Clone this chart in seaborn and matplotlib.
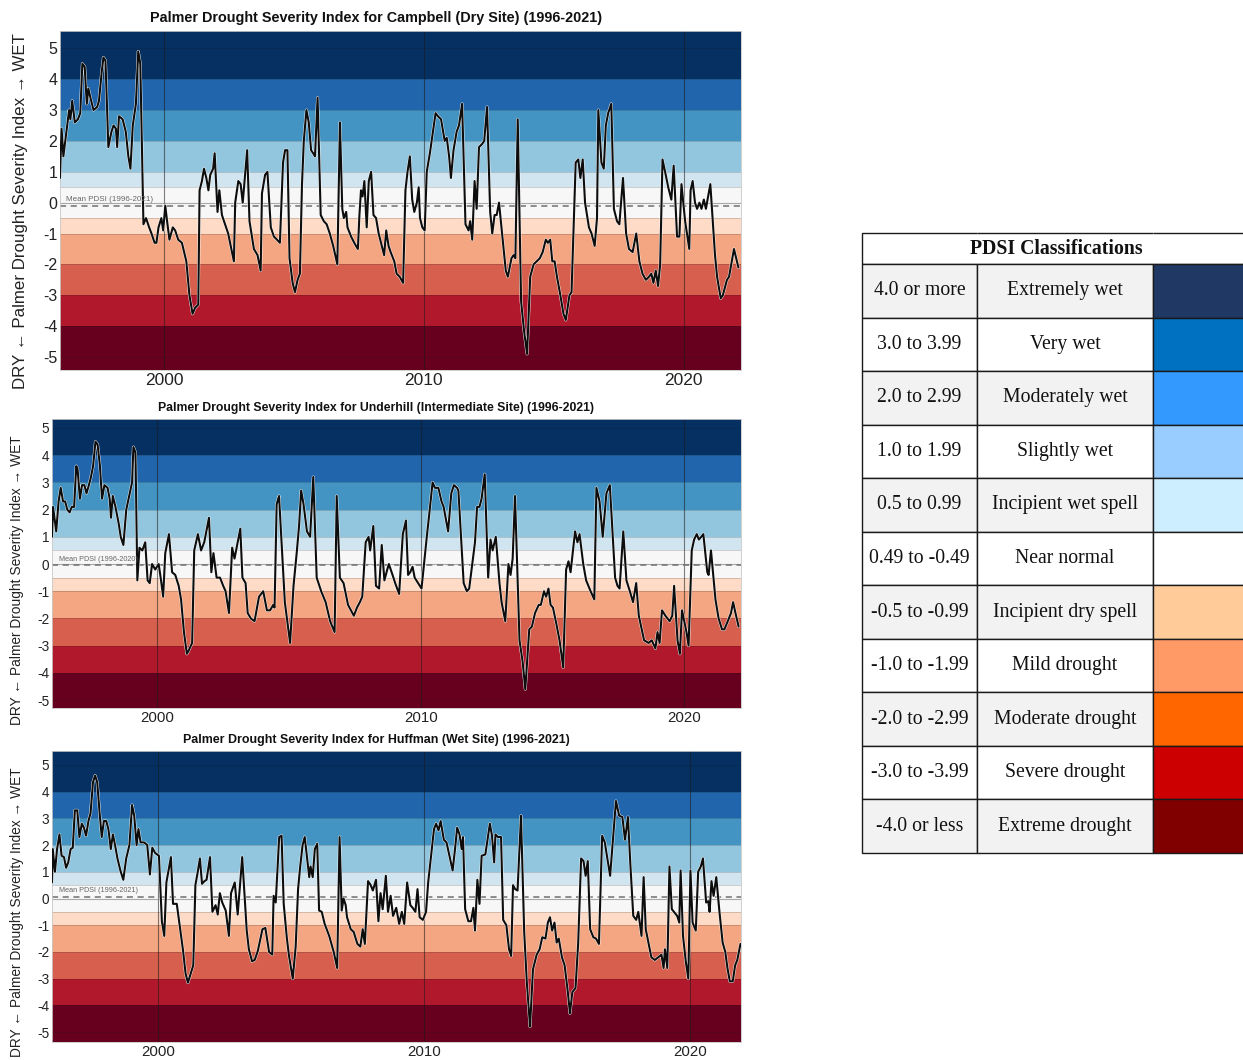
import numpy as np
import pandas as pd
import seaborn as sns
import matplotlib.pyplot as plt

sns.set_theme(style="white")
plt.rcParams['font.family'] = ['Liberation Sans', 'DejaVu Sans']
plt.rcParams['axes.unicode_minus'] = False

# (decimal year, PDSI)
campbell = [
    (1996.00, 0.8), (1996.06, 2.4), (1996.13, 1.5), (1996.35, 3.0), (1996.40, 2.7), (1996.47, 3.3),
    (1996.57, 2.6), (1996.69, 2.7), (1996.78, 2.9), (1996.86, 4.5), (1996.95, 4.4), (1997.03, 3.2),
    (1997.09, 3.7), (1997.17, 3.4), (1997.29, 3.0), (1997.43, 3.1), (1997.50, 3.3), (1997.60, 4.2),
    (1997.67, 4.7), (1997.75, 4.6), (1997.86, 1.8), (1997.98, 2.3), (1998.06, 2.5), (1998.15, 2.4),
    (1998.20, 1.8), (1998.27, 2.8), (1998.41, 2.7), (1998.53, 2.3), (1998.63, 1.5), (1998.71, 1.1),
    (1998.80, 2.5), (1998.92, 3.2), (1999.01, 4.9), (1999.09, 4.5), (1999.21, -0.7), (1999.31, -0.5),
    (1999.43, -0.8), (1999.52, -1.0), (1999.64, -1.3), (1999.71, -1.3), (1999.79, -0.8), (1999.90, -0.5),
    (1999.97, -0.9), (2000.05, -0.1), (2000.12, -0.6), (2000.21, -1.2), (2000.34, -0.8), (2000.43, -0.9),
    (2000.55, -1.2), (2000.69, -1.3), (2000.86, -1.9), (2000.98, -3.0), (2001.10, -3.6), (2001.20, -3.4),
    (2001.32, -3.3), (2001.37, 0.4), (2001.46, 0.7), (2001.54, 1.1), (2001.63, 0.8), (2001.71, 0.4),
    (2001.78, 0.9), (2001.89, 1.1), (2001.95, 1.6), (2002.06, -0.3), (2002.13, 0.4), (2002.23, -0.4),
    (2002.35, -0.7), (2002.47, -1.0), (2002.69, -1.9), (2002.74, 0.0), (2002.86, 0.7), (2002.95, 0.6),
    (2003.03, 0.0), (2003.20, 1.7), (2003.29, -0.6), (2003.46, -1.5), (2003.60, -1.7), (2003.72, -2.2),
    (2003.77, 0.3), (2003.89, 0.9), (2003.98, 1.0), (2004.11, -0.8), (2004.23, -1.1), (2004.35, -1.2),
    (2004.46, -1.3), (2004.58, 1.3), (2004.66, 1.7), (2004.75, 1.7), (2004.83, -1.8), (2004.95, -2.6),
    (2005.04, -2.9), (2005.14, -2.5), (2005.23, -2.3), (2005.31, 0.6), (2005.38, 2.0), (2005.48, 3.0),
    (2005.57, 2.6), (2005.66, 1.7), (2005.74, 1.6), (2005.81, 1.5), (2005.91, 3.4), (2006.03, -0.4),
    (2006.15, -0.6), (2006.26, -0.7), (2006.38, -1.0), (2006.51, -1.4), (2006.67, -2.0), (2006.77, 2.6),
    (2006.86, -0.2), (2006.92, -0.5), (2007.01, -0.3), (2007.06, -0.8), (2007.20, -1.1), (2007.32, -1.3),
    (2007.46, -1.5), (2007.52, -0.4), (2007.58, 0.4), (2007.64, 0.2), (2007.71, 0.7), (2007.80, -0.8),
    (2007.88, 0.7), (2007.97, 1.0), (2008.06, -0.4), (2008.16, -0.5), (2008.26, -1.0), (2008.38, -1.4),
    (2008.47, -1.7), (2008.55, -0.9), (2008.64, -1.4), (2008.72, -1.6), (2008.86, -1.9), (2008.95, -2.3),
    (2009.07, -2.4), (2009.20, -2.6), (2009.29, 0.4), (2009.37, 1.0), (2009.46, 1.5), (2009.55, 0.1),
    (2009.63, -0.3), (2009.73, 0.0), (2009.80, 0.5), (2009.85, -0.5), (2009.94, -0.8), (2010.03, -0.9),
    (2010.11, 1.0), (2010.23, 1.6), (2010.45, 2.9), (2010.54, 2.8), (2010.66, 2.7), (2010.80, 2.0),
    (2010.88, 2.1), (2010.97, 1.5), (2011.04, 0.8), (2011.14, 1.7), (2011.26, 2.3), (2011.35, 2.5),
    (2011.47, 3.2), (2011.60, -0.7), (2011.72, -0.9), (2011.78, -0.6), (2011.86, -1.2), (2011.95, 0.7),
    (2012.03, -0.2), (2012.12, 1.8), (2012.24, 1.9), (2012.32, 2.0), (2012.43, 3.1), (2012.55, -0.3),
    (2012.63, -1.0), (2012.72, -0.4), (2012.80, -0.4), (2012.89, 0.0), (2013.01, -1.0), (2013.15, -2.2),
    (2013.23, -2.4), (2013.37, -1.8), (2013.45, -1.7), (2013.52, -1.8), (2013.61, 2.7), (2013.74, -3.2),
    (2013.86, -4.2), (2013.97, -4.9), (2014.09, -2.4), (2014.22, -2.0), (2014.34, -1.9), (2014.46, -1.8),
    (2014.57, -1.6), (2014.69, -1.2), (2014.77, -1.3), (2014.86, -1.2), (2014.94, -1.9), (2015.03, -1.9),
    (2015.12, -2.4), (2015.25, -3.0), (2015.37, -3.6), (2015.46, -3.8), (2015.60, -3.0), (2015.68, -2.9),
    (2015.84, 1.3), (2015.94, 1.4), (2016.02, 0.8), (2016.11, 1.4), (2016.20, 0.0), (2016.35, -0.8),
    (2016.45, -1.0), (2016.57, -1.4), (2016.66, -0.5), (2016.71, 3.0), (2016.83, 1.3), (2016.92, 1.1),
    (2017.00, 2.5), (2017.09, 2.9), (2017.21, 3.2), (2017.31, -0.2), (2017.43, -0.6), (2017.52, -0.7),
    (2017.66, 0.8), (2017.78, -1.0), (2017.89, -1.5), (2018.03, -1.6), (2018.17, -1.0), (2018.29, -1.9),
    (2018.41, -2.3), (2018.54, -2.5), (2018.66, -2.4), (2018.75, -2.3), (2018.83, -2.6), (2018.92, -2.2),
    (2019.01, -2.7), (2019.09, -2.0), (2019.18, 1.4), (2019.28, 1.0), (2019.40, 0.5), (2019.52, 0.1),
    (2019.61, 1.2), (2019.74, -1.1), (2019.83, -1.1), (2019.91, 0.6), (2020.05, -0.6), (2020.21, -1.5),
    (2020.26, 0.4), (2020.34, 0.7), (2020.43, 0.0), (2020.51, -0.2), (2020.60, 0.0), (2020.68, -0.2),
    (2020.77, 0.1), (2020.85, -0.2), (2021.02, 0.6), (2021.20, -1.7), (2021.28, -2.4), (2021.42, -3.1),
    (2021.50, -3.0), (2021.66, -2.5), (2021.74, -2.4), (2021.93, -1.5), (2022.10, -2.1),
]

underhill = [
    (1996.00, 1.0), (1996.04, 2.1), (1996.16, 1.2), (1996.25, 2.3), (1996.33, 2.8), (1996.42, 2.3),
    (1996.50, 2.3), (1996.58, 2.0), (1996.67, 1.9), (1996.75, 2.1), (1996.84, 2.1), (1996.92, 3.6),
    (1996.97, 3.5), (1997.06, 2.4), (1997.14, 2.9), (1997.23, 2.9), (1997.31, 2.6), (1997.40, 2.9),
    (1997.48, 3.2), (1997.56, 3.6), (1997.65, 4.5), (1997.73, 4.4), (1997.82, 3.6), (1997.90, 2.4),
    (1997.99, 2.9), (1998.11, 2.8), (1998.19, 2.4), (1998.24, 1.7), (1998.31, 2.5), (1998.41, 2.1),
    (1998.53, 1.5), (1998.61, 1.0), (1998.71, 0.7), (1998.82, 2.0), (1998.95, 2.6), (1999.04, 3.0),
    (1999.09, 4.3), (1999.17, 4.1), (1999.24, -0.6), (1999.32, 0.6), (1999.43, 0.5), (1999.54, 0.8),
    (1999.63, -0.6), (1999.71, -0.7), (1999.80, 0.0), (1999.92, -0.2), (2000.05, 0.0), (2000.14, -0.6),
    (2000.22, -1.2), (2000.30, 0.4), (2000.44, 1.1), (2000.56, -0.3), (2000.68, -0.4), (2000.81, -0.8),
    (2000.90, -1.3), (2001.01, -2.5), (2001.12, -3.3), (2001.18, -3.2), (2001.32, -2.9), (2001.40, 0.5),
    (2001.54, 1.1), (2001.66, 0.5), (2001.78, 0.8), (2001.96, 1.7), (2002.05, -0.3), (2002.13, 0.4),
    (2002.25, -0.5), (2002.38, -0.5), (2002.50, -0.8), (2002.59, -1.0), (2002.72, -1.8), (2002.84, 0.6),
    (2002.93, 0.2), (2003.15, 1.3), (2003.23, -0.5), (2003.35, -0.7), (2003.43, -1.8), (2003.55, -2.0),
    (2003.69, -2.1), (2003.86, -1.2), (2004.02, -1.0), (2004.16, -1.7), (2004.28, -1.7), (2004.40, -1.5),
    (2004.45, -1.6), (2004.53, 2.2), (2004.62, 2.5), (2004.84, -1.4), (2005.04, -2.9), (2005.17, -0.8),
    (2005.29, 0.4), (2005.38, 1.4), (2005.46, 2.7), (2005.55, 2.2), (2005.68, 1.2), (2005.80, 1.0),
    (2005.92, 3.2), (2006.05, -0.5), (2006.22, -1.0), (2006.39, -1.4), (2006.56, -2.1), (2006.73, -2.5),
    (2006.81, 2.5), (2006.93, -0.5), (2007.07, -0.7), (2007.24, -1.5), (2007.46, -1.9), (2007.58, -1.6),
    (2007.69, -1.4), (2007.78, -1.2), (2007.91, 0.8), (2008.02, 1.0), (2008.08, 0.5), (2008.20, 1.4),
    (2008.30, -0.8), (2008.42, -0.9), (2008.52, 0.7), (2008.62, -0.6), (2008.73, -0.2), (2008.79, 0.0),
    (2008.93, -0.4), (2009.03, -0.7), (2009.18, -1.1), (2009.32, 1.1), (2009.44, 1.6), (2009.52, -0.4),
    (2009.60, -0.3), (2009.69, -0.1), (2009.77, -0.5), (2010.03, -0.9), (2010.23, 1.0), (2010.32, 1.8),
    (2010.45, 3.0), (2010.54, 2.8), (2010.67, 2.8), (2010.79, 2.3), (2010.87, 2.1), (2011.04, 1.2),
    (2011.16, 2.6), (2011.26, 2.9), (2011.38, 2.8), (2011.43, 2.7), (2011.63, -0.7), (2011.75, -1.0),
    (2011.84, -0.9), (2012.06, 0.8), (2012.14, 2.1), (2012.23, 2.1), (2012.31, 2.4), (2012.43, 3.3),
    (2012.56, -0.5), (2012.65, 0.9), (2012.73, 0.5), (2012.85, 1.0), (2012.99, -0.7), (2013.07, -1.4),
    (2013.21, -2.1), (2013.33, 0.0), (2013.41, -0.4), (2013.49, 0.2), (2013.58, 2.5), (2013.75, -2.8),
    (2013.87, -3.6), (2013.97, -4.6), (2014.12, -2.4), (2014.22, -2.3), (2014.34, -1.8), (2014.48, -1.5),
    (2014.56, -1.5), (2014.68, -1.0), (2014.76, -1.2), (2014.85, -0.9), (2014.93, -1.5), (2015.02, -1.6),
    (2015.15, -2.2), (2015.27, -2.8), (2015.41, -3.8), (2015.52, -0.2), (2015.61, 0.1), (2015.69, -0.3),
    (2015.86, 1.2), (2015.95, 0.8), (2016.03, 1.1), (2016.17, 0.0), (2016.28, -0.6), (2016.45, -1.0),
    (2016.59, -1.3), (2016.67, 2.8), (2016.79, 2.3), (2016.91, 1.0), (2017.05, 2.6), (2017.18, 2.9),
    (2017.38, -0.5), (2017.47, -0.8), (2017.55, -0.9), (2017.69, 1.2), (2017.81, -0.6), (2017.94, -1.0),
    (2018.06, -1.4), (2018.18, -0.7), (2018.28, -1.9), (2018.48, -2.8), (2018.65, -2.9), (2018.77, -2.8),
    (2018.91, -3.1), (2018.99, -2.5), (2019.07, -2.9), (2019.16, -1.7), (2019.29, -1.9), (2019.45, -2.1),
    (2019.55, -1.9), (2019.62, -0.8), (2019.75, -2.8), (2019.84, -3.3), (2019.92, -1.7), (2020.09, -2.5),
    (2020.17, -3.0), (2020.29, 0.5), (2020.38, 0.9), (2020.48, 1.1), (2020.56, 0.9), (2020.65, 1.0),
    (2020.73, 1.1), (2020.88, -0.3), (2020.93, -0.4), (2021.02, 0.5), (2021.19, -1.3), (2021.31, -2.0),
    (2021.44, -2.4), (2021.53, -2.4), (2021.70, -2.0), (2021.78, -1.8), (2021.86, -1.4), (2021.95, -1.8),
    (2022.07, -2.3),
]

huffman = [
    (1996.00, 0.6), (1996.03, 1.85), (1996.11, 1.0), (1996.19, 1.85), (1996.28, 2.4), (1996.36, 1.6),
    (1996.45, 1.55), (1996.53, 1.15), (1996.61, 1.35), (1996.70, 1.85), (1996.78, 1.9), (1996.86, 3.3),
    (1996.95, 3.3), (1997.03, 2.3), (1997.12, 2.8), (1997.20, 2.65), (1997.28, 2.35), (1997.37, 2.9),
    (1997.45, 3.2), (1997.54, 4.35), (1997.62, 4.6), (1997.70, 4.35), (1997.79, 3.2), (1997.87, 2.3),
    (1997.95, 2.9), (1998.04, 2.9), (1998.12, 2.6), (1998.21, 1.85), (1998.29, 2.4), (1998.37, 2.0),
    (1998.46, 1.5), (1998.57, 1.05), (1998.68, 0.7), (1998.79, 1.5), (1998.91, 2.0), (1999.01, 3.5),
    (1999.09, 3.1), (1999.18, 2.0), (1999.25, 2.6), (1999.33, 2.1), (1999.46, 2.1), (1999.58, 2.0),
    (1999.68, 0.9), (1999.77, 1.9), (1999.88, 1.7), (2000.02, 1.6), (2000.13, -0.85), (2000.22, -1.4),
    (2000.30, 0.6), (2000.47, 1.55), (2000.55, -0.2), (2000.69, -0.2), (2000.80, -1.0), (2000.92, -1.9),
    (2001.02, -2.8), (2001.11, -3.15), (2001.22, -2.8), (2001.31, -2.5), (2001.39, 0.5), (2001.48, 1.0),
    (2001.56, 1.5), (2001.64, 0.55), (2001.73, 0.65), (2001.81, 0.7), (2001.94, 1.55), (2002.03, -0.5),
    (2002.15, -0.25), (2002.23, -0.6), (2002.31, 0.2), (2002.40, -0.15), (2002.53, -0.45), (2002.65, -1.4),
    (2002.73, 0.2), (2002.87, 0.6), (2002.98, -0.6), (2003.15, 1.55), (2003.32, -1.2), (2003.40, -1.9),
    (2003.52, -2.35), (2003.62, -2.3), (2003.74, -1.95), (2003.91, -1.15), (2004.02, -1.1), (2004.16, -2.0),
    (2004.28, -2.1), (2004.33, 0.1), (2004.41, -0.15), (2004.54, 2.3), (2004.63, 2.35), (2004.71, -0.2),
    (2004.83, -1.5), (2004.91, -2.15), (2005.05, -3.0), (2005.16, -1.8), (2005.25, 0.35), (2005.33, 1.2),
    (2005.42, 2.0), (2005.50, 2.3), (2005.58, 1.6), (2005.67, 0.8), (2005.72, 1.2), (2005.80, 0.8),
    (2005.88, 1.85), (2005.97, 2.05), (2006.04, -0.45), (2006.14, -0.5), (2006.25, -0.95), (2006.42, -1.4),
    (2006.59, -2.0), (2006.72, -2.6), (2006.81, 2.3), (2006.89, -0.45), (2006.96, 0.0), (2007.04, -0.25),
    (2007.09, -0.7), (2007.23, -1.15), (2007.34, -1.25), (2007.48, -1.7), (2007.59, -1.8), (2007.68, -1.15),
    (2007.76, -1.7), (2007.88, 0.65), (2007.98, 0.5), (2008.06, 0.3), (2008.18, 0.7), (2008.27, -0.85),
    (2008.35, 0.2), (2008.43, -0.4), (2008.55, 0.85), (2008.63, -0.5), (2008.73, 0.1), (2008.82, -0.65),
    (2008.94, -0.35), (2009.05, -0.95), (2009.15, -0.5), (2009.24, -0.95), (2009.35, 0.6), (2009.47, -0.25),
    (2009.56, -0.35), (2009.66, -0.5), (2009.74, 0.35), (2009.82, -0.7), (2009.94, -0.8), (2010.06, -0.5),
    (2010.14, 0.6), (2010.24, 1.5), (2010.36, 2.6), (2010.44, 2.8), (2010.53, 2.55), (2010.61, 2.9),
    (2010.73, 2.2), (2010.83, 2.1), (2010.95, 1.55), (2011.06, 1.05), (2011.15, 1.85), (2011.23, 2.65),
    (2011.32, 2.4), (2011.40, 1.85), (2011.45, 2.3), (2011.53, -0.4), (2011.65, -0.85), (2011.75, -0.85),
    (2011.84, -0.35), (2011.90, -1.2), (2011.99, 0.7), (2012.07, -0.2), (2012.15, 1.6), (2012.29, 1.65),
    (2012.37, 2.2), (2012.46, 2.8), (2012.54, 2.35), (2012.62, 1.35), (2012.67, 2.4), (2012.76, 2.3),
    (2012.88, 2.3), (2012.96, -0.8), (2013.08, -1.0), (2013.18, -1.9), (2013.26, -2.15), (2013.33, 0.5),
    (2013.41, 0.35), (2013.50, 0.3), (2013.63, 3.1), (2013.75, -1.25), (2013.85, -3.15), (2013.97, -4.8),
    (2014.08, -2.65), (2014.22, -2.1), (2014.33, -1.9), (2014.43, -1.45), (2014.55, -1.5), (2014.64, -0.9),
    (2014.72, -0.7), (2014.80, -1.2), (2014.89, -0.9), (2014.97, -1.65), (2015.05, -1.5), (2015.17, -2.2),
    (2015.27, -2.5), (2015.39, -3.5), (2015.47, -4.3), (2015.56, -3.5), (2015.68, -3.35), (2015.78, -1.65),
    (2015.89, 1.5), (2015.98, 1.4), (2016.06, 0.85), (2016.14, 1.4), (2016.23, -1.15), (2016.35, -1.45),
    (2016.45, -1.5), (2016.56, -1.7), (2016.68, 2.35), (2016.78, 2.1), (2016.90, 1.35), (2016.98, 0.85),
    (2017.12, 2.65), (2017.20, 3.65), (2017.32, 3.1), (2017.44, 3.05), (2017.54, 2.2), (2017.65, 3.05),
    (2017.74, 1.3), (2017.85, -0.65), (2017.96, -0.8), (2018.04, -0.5), (2018.16, -1.4), (2018.24, 0.8),
    (2018.32, -1.15), (2018.41, -1.6), (2018.53, -2.2), (2018.66, -2.3), (2018.79, -2.2), (2018.91, -2.1),
    (2018.99, -2.6), (2019.04, -1.9), (2019.13, -2.6), (2019.21, 1.2), (2019.30, -0.4), (2019.38, -0.5),
    (2019.50, -0.65), (2019.58, -0.9), (2019.63, 1.05), (2019.72, -1.4), (2019.83, -2.4), (2019.92, -3.0),
    (2020.00, 1.05), (2020.08, -0.9), (2020.20, -1.2), (2020.29, 1.0), (2020.39, 1.2), (2020.47, 1.5),
    (2020.59, -0.15), (2020.67, -0.1), (2020.72, -0.5), (2020.79, 0.65), (2020.87, 0.1), (2020.97, 0.8),
    (2021.09, -0.5), (2021.21, -1.65), (2021.31, -2.0), (2021.39, -2.6), (2021.48, -3.1), (2021.59, -3.1),
    (2021.68, -2.5), (2021.76, -2.3), (2021.88, -1.7),
]

site_titles = [
    'Palmer Drought Severity Index for Campbell (Dry Site) (1996-2021)',
    'Palmer Drought Severity Index for Underhill (Intermediate Site) (1996-2021)',
    'Palmer Drought Severity Index for Huffman (Wet Site) (1996-2021)',
]
site_means = [-0.12, -0.05, 0.05]
mean_labels = ['Mean PDSI (1996-2021)', 'Mean PDSI (1996-2020)', 'Mean PDSI (1996-2021)']

# classification table
pdsi_ranges = ['4.0 or more', '3.0 to 3.99', '2.0 to 2.99', '1.0 to 1.99', '0.5 to 0.99',
               '0.49 to -0.49', '-0.5 to -0.99', '-1.0 to -1.99', '-2.0 to -2.99',
               '-3.0 to -3.99', '-4.0 or less']
pdsi_classes = ['Extremely wet', 'Very wet', 'Moderately wet', 'Slightly wet', 'Incipient wet spell',
                'Near normal', 'Incipient dry spell', 'Mild drought', 'Moderate drought',
                'Severe drought', 'Extreme drought']
pdsi_swatches = ['#203864', '#0070c0', '#3399ff', '#99ccff', '#cceeff', '#ffffff',
                 '#ffcc99', '#ff9966', '#ff6600', '#cc0000', '#800000']

band_edges = [-4, -3, -2, -1, -0.5, 0.5, 1, 2, 3, 4]
band_colors = ['#67001f', '#b2182b', '#d6604d', '#f4a582', '#fddbc7', '#f7f7f7',
               '#d1e5f0', '#92c5de', '#4393c3', '#2166ac', '#053061']

W, H = 1243, 1060
fig = plt.figure(figsize=(W / 100, H / 100), dpi=100)

# axes boxes in pixels: left, top, right, bottom
boxes = [(60, 31, 741, 370), (52, 419, 741, 708), (52, 751, 741, 1042)]
xlims = [(1996.0, 2022.2), (1996.0, 2022.16), (1996.0, 2021.9)]
ylims = [(-5.42, 5.56), (-5.29, 5.33), (-5.37, 5.52)]
title_y = [18, 408, 740]
title_fs = [10.4, 8.85, 8.9]
ytick_fs = [11.5, 9.8, 9.8]
xtick_fs = [12.5, 10.8, 10.8]
ylab_fs = [12.2, 9.9, 9.9]
mean_fs = [5.8, 5.2, 5.2]
ylab_right = [28, 24, 24]
ylab_center = [211, 580, 912]


def draw_panel(ax, data, mean, mean_label, xlim, ylim, i):
    lows = [ylim[0] - 1] + band_edges
    highs = band_edges + [ylim[1] + 1]
    for lo, hi, c in zip(lows, highs, band_colors):
        ax.axhspan(lo, hi, color=c, lw=0, zorder=0)
    for e in band_edges + [-5, 5]:
        ax.axhline(e, color='#1a1a1a', lw=0.6, alpha=0.22, zorder=1)
    for yr in (2000, 2010, 2020):
        ax.axvline(yr, color='#1a1a1a', lw=0.8, alpha=0.55, zorder=1)
    ax.axhline(0, color='#888888', lw=0.8, alpha=0.7, zorder=1)
    ax.axhline(mean, color='#707070', lw=1.1, ls=(0, (4, 3)), zorder=2)

    df = pd.DataFrame(data, columns=['year', 'pdsi'])
    sns.lineplot(data=df, x='year', y='pdsi', color='white', lw=2.1, ax=ax,
                 estimator=None, sort=False, zorder=3)
    sns.lineplot(data=df, x='year', y='pdsi', color='#0d0d0d', lw=1.5, ax=ax,
                 estimator=None, sort=False, zorder=4)

    ax.text(xlim[0] + 0.25, mean + 0.1, mean_label, fontsize=mean_fs[i], color='#666666',
            ha='left', va='bottom', zorder=5)

    ax.set_xlim(*xlim)
    ax.set_ylim(*ylim)
    ax.set_yticks(range(-5, 6))
    ax.set_xticks([2000, 2010, 2020])
    ax.tick_params(axis='y', length=0, pad=2, labelsize=ytick_fs[i], colors='#222222')
    ax.tick_params(axis='x', length=0, pad=2, labelsize=xtick_fs[i], colors='#222222')
    ax.set_xlabel('')
    ax.set_ylabel('DRY \u2190 Palmer Drought Severity Index \u2192 WET', fontsize=ylab_fs[i],
                  color='#222222')
    for s in ax.spines.values():
        s.set_color('#c8c8c8')
        s.set_linewidth(0.6)


for i, data in enumerate([campbell, underhill, huffman]):
    l, t, r, b = boxes[i]
    ax = fig.add_axes([l / W, 1 - b / H, (r - l) / W, (b - t) / H])
    draw_panel(ax, data, site_means[i], mean_labels[i], xlims[i], ylims[i], i)
    ax.yaxis.set_label_coords((ylab_right[i] - l) / (r - l), (b - ylab_center[i]) / (b - t))
    fig.text(376 / W, 1 - title_y[i] / H, site_titles[i], ha='center', va='center',
             fontsize=title_fs[i], fontweight='bold', color='#111111')

# classification table on the right
tl, tt, tr, tb = 862, 233, 1250, 853
tax = fig.add_axes([tl / W, 1 - tb / H, (tr - tl) / W, (tb - tt) / H])
tax.set_axis_off()
row_bg = ['#f2f2f2' if k % 2 == 0 else '#ffffff' for k in range(len(pdsi_ranges))]
cell_text = [['', '', '']] + [[r, c, ''] for r, c in zip(pdsi_ranges, pdsi_classes)]
cell_colours = [['#ffffff'] * 3] + [[bg, bg, sw] for bg, sw in zip(row_bg, pdsi_swatches)]
col_w = [115, 176, 97]
tbl = tax.table(cellText=cell_text, cellColours=cell_colours,
                colWidths=[w / sum(col_w) for w in col_w], cellLoc='center',
                bbox=[0, 0, 1, 1])
tbl.auto_set_font_size(False)
for (r, c), cell in tbl.get_celld().items():
    cell.set_height(31 if r == 0 else 53.5)
    cell.set_edgecolor('#1a1a1a')
    cell.set_linewidth(1.0)
    txt = cell.get_text()
    txt.set_fontfamily(['Liberation Serif', 'DejaVu Serif'])
    txt.set_fontsize(14.2)
    txt.set_color('#111111')
    if r == 0:
        cell.visible_edges = {0: 'BTL', 1: 'BT', 2: 'BTR'}[c]
tax.text((1056 - tl) / (tr - tl), (tb - 249) / (tb - tt), 'PDSI Classifications',
         transform=tax.transAxes, ha='center', va='center', fontsize=14.2,
         fontweight='bold', family=['Liberation Serif', 'DejaVu Serif'], color='#111111')

fig.savefig('out.png', dpi=100)
